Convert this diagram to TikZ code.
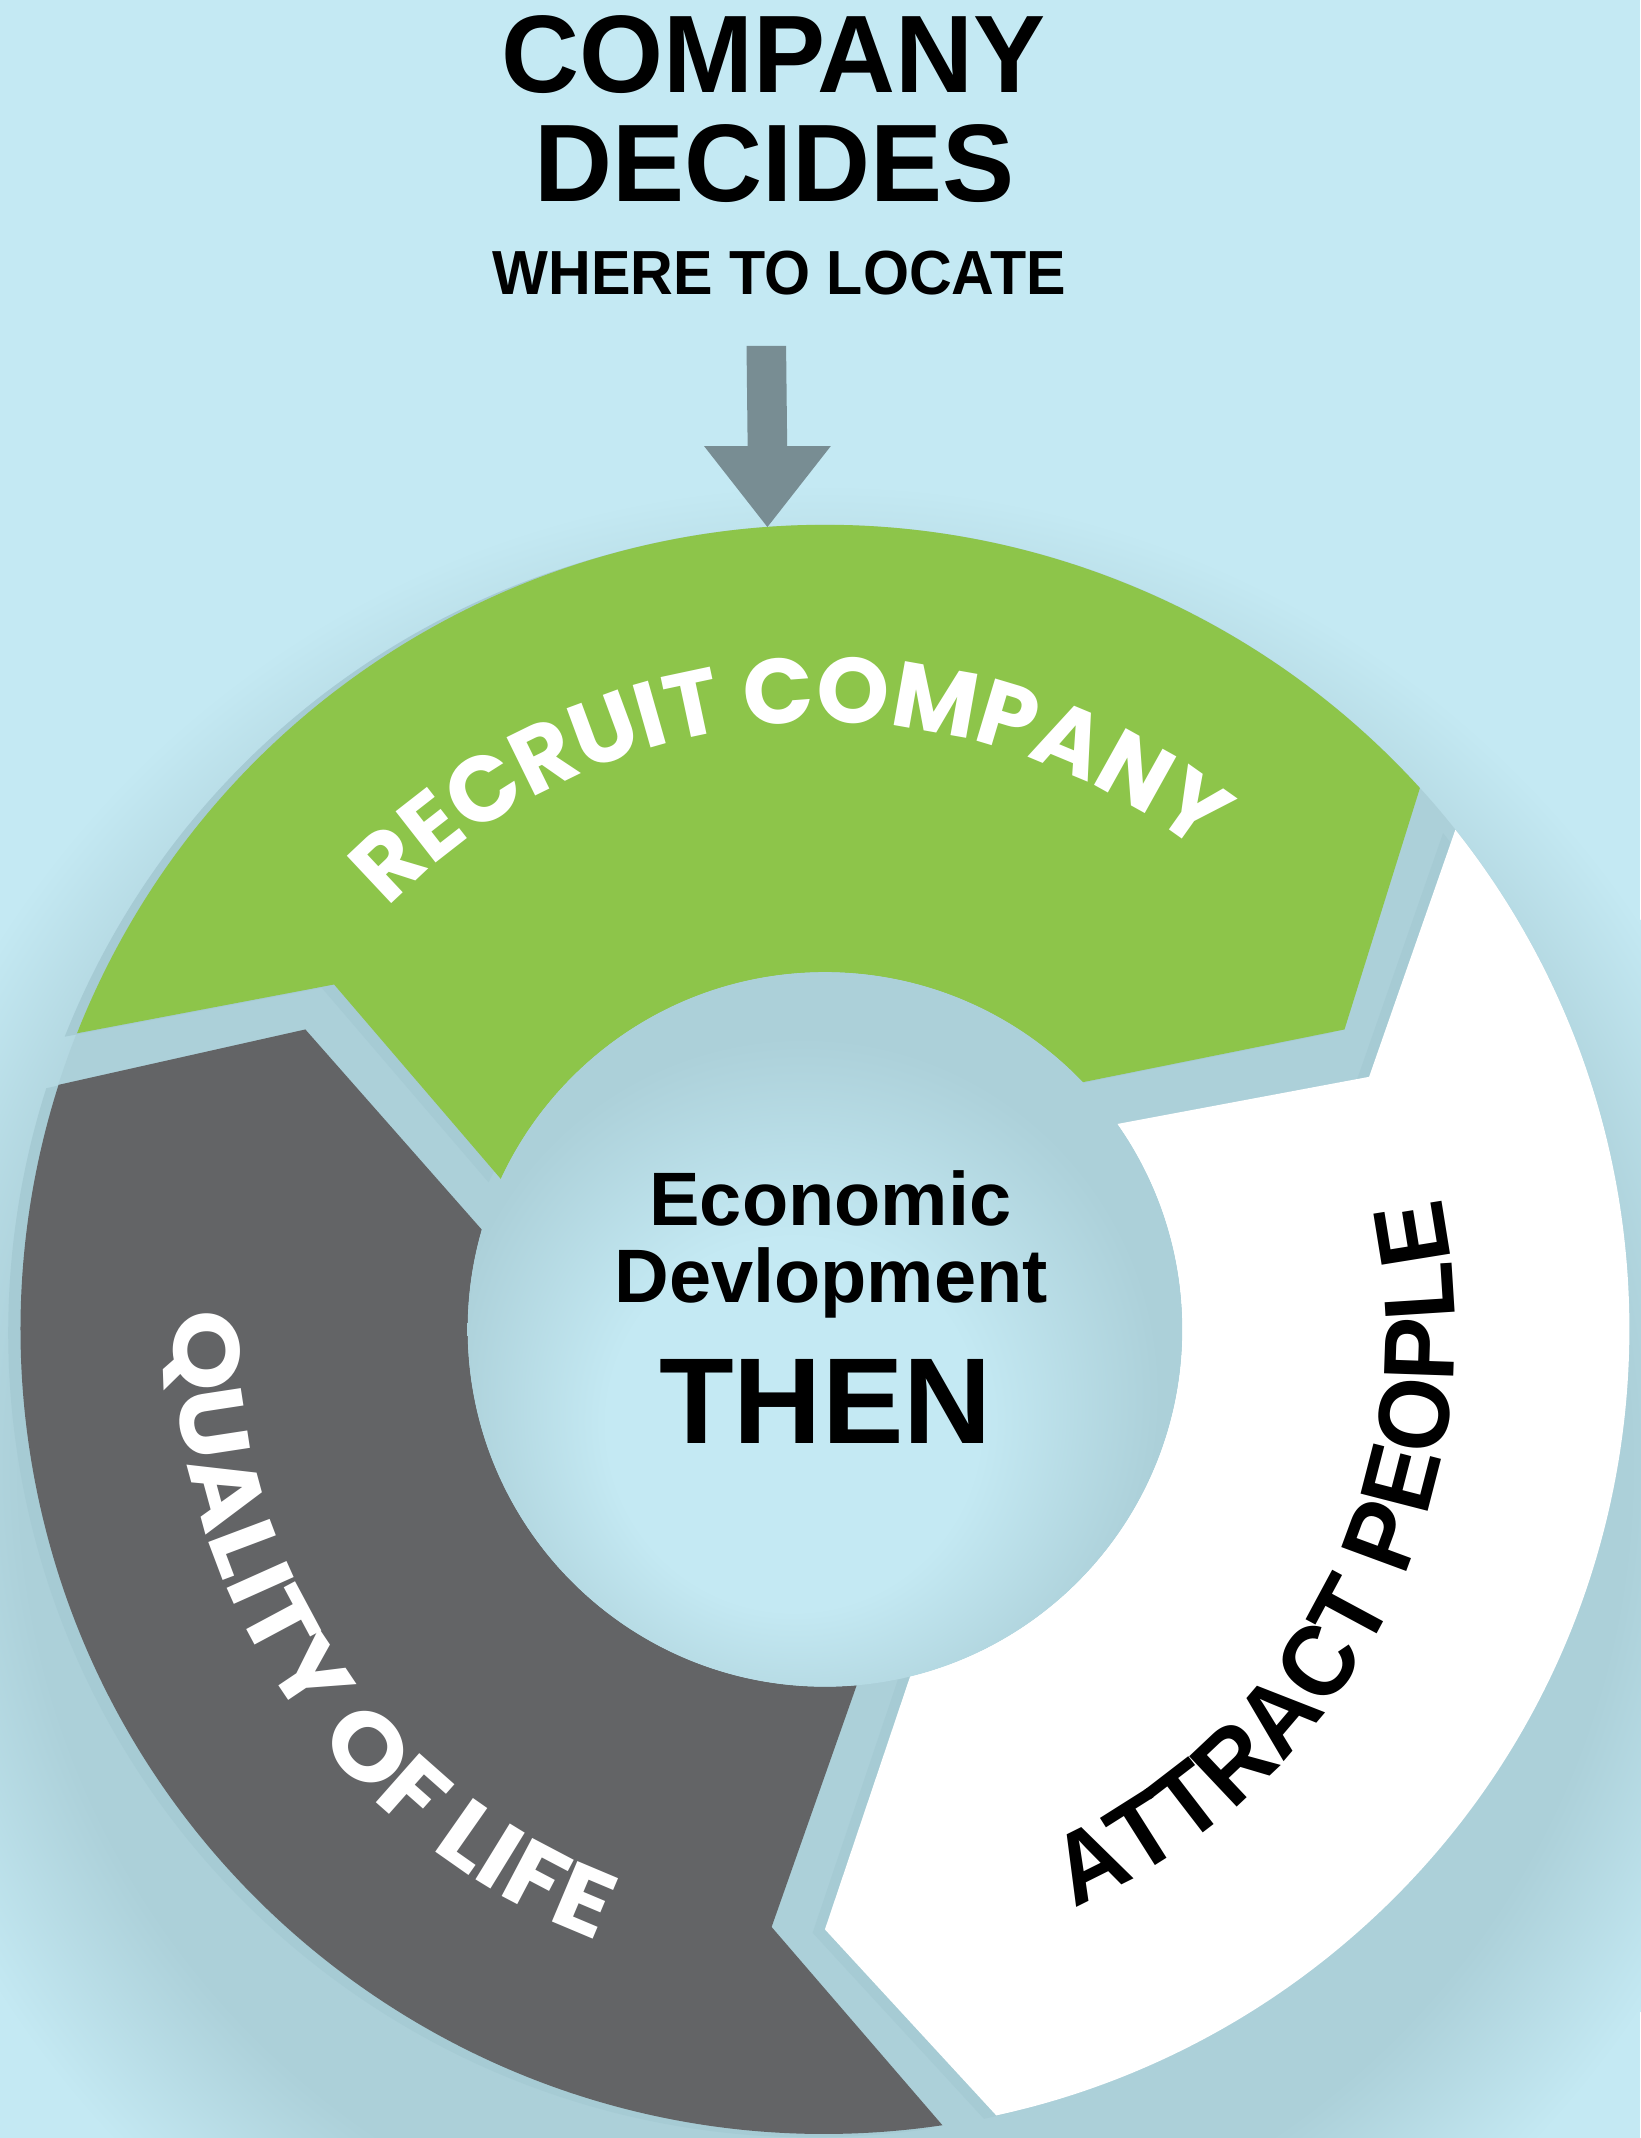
\documentclass[tikz,border=0pt]{standalone}
\usepackage{fontspec}
\setmainfont{Liberation Sans}
\newfontfamily\roundfont{Poppins}
\newfontfamily\lifefont[FakeStretch=1.1]{Poppins}
\newfontfamily\attractfont[FakeStretch=0.95]{Liberation Sans}
\usetikzlibrary{calc,decorations.text}
\definecolor{bgblue}{RGB}{196,233,243}
\definecolor{shadeblue}{RGB}{172,208,217}
\definecolor{dropblue}{RGB}{166,203,212}
\definecolor{leafgreen}{RGB}{141,197,74}
\definecolor{slate}{RGB}{99,100,102}
\definecolor{arrowgrey}{RGB}{120,141,147}
\pgfdeclareradialshading{ringglow}{\pgfpoint{0bp}{0bp}}{color(0bp)=(shadeblue); color(20.5bp)=(shadeblue); color(25bp)=(bgblue); color(50bp)=(bgblue)}
\pgfdeclareradialshading{hubglow}{\pgfpoint{-3bp}{-9bp}}{color(0bp)=(bgblue); color(13bp)=(bgblue); color(25bp)=(shadeblue); color(50bp)=(shadeblue)}
\newcommand\recruitstyle{\roundfont\bfseries\fontsize{19.3}{19.3}\selectfont}
\newcommand\lifestyle{\lifefont\bfseries\fontsize{19.5}{19.5}\selectfont}
\newcommand\attractstyle{\attractfont\bfseries\fontsize{21}{21}\selectfont}

\begin{document}
\begin{tikzpicture}[
    headline/.style={font=\bfseries\fontsize{23}{23}\selectfont, inner sep=0pt, anchor=base},
    subline/.style={font=\bfseries\fontsize{13}{13}\selectfont, inner sep=0pt, anchor=base},
    midtext/.style={font=\bfseries\fontsize{15.8}{16}\selectfont, inner sep=0pt, anchor=base},
    thentext/.style={font=\bfseries\fontsize{25.5}{26}\selectfont, inner sep=0pt, anchor=base},
    segshape/.style={insert path={(158.4:5.9) arc[start angle=158.4, end angle=42.3, radius=5.9]
        -- (30:4.4) -- (43.8:2.62) arc[start angle=43.8, end angle=155.1, radius=2.62]
        -- (144.9:4.4) -- cycle}},
    ringtext/.style={decorate, decoration={text along path, text align=center, text color=#1}}
]
    \useasboundingbox (-6.05,-5.93) rectangle (5.98,9.75);
    \clip (-6.05,-5.93) rectangle (5.98,9.75);
    \fill[bgblue] (-6.05,-5.93) rectangle (5.98,9.75);

    % soft shadow under the ring
    \shade[shading=ringglow] (0,-1) circle (7.2);
    \fill[shadeblue] (0,0) circle (5.9);

    % three arrow segments, clockwise
    \foreach \turn in {0,-120,120}
        \fill[dropblue, shift={(-0.09,-0.025)}, rotate=\turn, segshape];
    \fill[leafgreen, segshape];
    \fill[white, rotate=-120, segshape];
    \fill[slate, rotate=120, segshape];

    % hub
    \shade[shading=hubglow] (0,0) circle (2.62);

    \node[midtext] (econ) at (0.04,0.764) {Economic};
    \node[midtext] (devl) at (0.045,0.195) {Devlopment};
    \node[thentext] (then) at (0.005,-0.84) {THEN};

    % labels on the ring
    \path[ringtext=white, decoration={text={|\recruitstyle|RECRUIT COMPANY}}]
        (163.9:4.45) arc[start angle=163.9, end angle=23.9, radius=4.45];
    \path[ringtext=white, decoration={text={|\lifestyle|QUALITY OF LIFE}}]
        (144:4.78) arc[start angle=144, end angle=284, radius=4.78];
    \path[ringtext=black, decoration={text={|\attractstyle|ATTRACT PEOPLE}}]
        (-97.3:4.62) arc[start angle=-97.3, end angle=42.7, radius=4.62];

    % title
    \node[headline] (company) at (-0.38,9.07) {\scalebox{0.98}[1]{COMPANY}};
    \node[headline] (decides) at (-0.37,8.27) {\scalebox{0.98}[1]{DECIDES}};
    \node[subline] (where) at (-0.335,7.59) {\scalebox{0.95}[1]{WHERE TO LOCATE}};

    \coordinate (arrowtop) at (-0.43,7.214);
    \coordinate (ringtop) at (94.1:5.9);
    \fill[arrowgrey] ($(arrowtop)+(-0.145,0)$) -- ($(arrowtop)+(0.145,0)$)
        -- ($(ringtop)+(0.145,0.594)$) -- ($(ringtop)+(0.465,0.594)$) -- (ringtop)
        -- ($(ringtop)+(-0.465,0.594)$) -- ($(ringtop)+(-0.145,0.594)$) -- cycle;
\end{tikzpicture}
\end{document}
